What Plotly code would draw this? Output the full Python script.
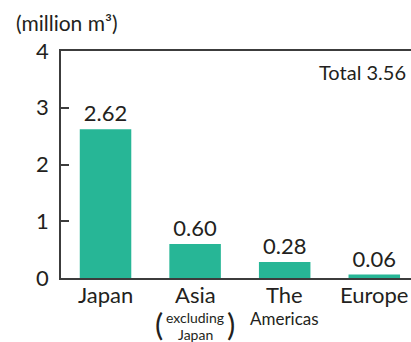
import plotly.graph_objects as go

categories = ["Japan", "Asia", "The Americas", "Europe"]
values = [2.62, 0.60, 0.28, 0.06]
value_labels = ["2.62", "0.60", "0.28", "0.06"]
y_ticks = [0, 1, 2, 3, 4]
total_label = "Total 3.56"
unit_label = "(million m³)"

FONT = "Lato"
TXT = "#231f20"
LINE = "#3c3c3c"
BAR = "#27b696"

fig = go.Figure()
fig.add_trace(go.Bar(
    x=categories, y=values, width=0.575,
    marker=dict(color=BAR, line=dict(width=0)),
    text=value_labels, textposition="outside",
    textfont=dict(family=FONT, size=22, color=TXT),
    cliponaxis=False,
))

def lab(cat, text, size, yshift, xshift=0, yanchor="top"):
    return dict(x=cat, y=0, xref="x", yref="y", yanchor=yanchor, yshift=yshift,
                xshift=xshift, text=text, showarrow=False,
                font=dict(family=FONT, size=size, color=TXT))

ann = [
    lab(categories[0], "Japan", 22, -1),
    lab(categories[1], "Asia", 22, -1),
    lab(categories[1], "excluding", 14, -29),
    lab(categories[1], "Japan", 14, -46),
    lab(categories[1], "(", 31, -46, xshift=-36, yanchor="middle"),
    lab(categories[1], ")", 31, -46, xshift=36, yanchor="middle"),
    lab(categories[2], "The", 22, -1),
    lab(categories[2], "Americas", 17, -28),
    lab(categories[3], "Europe", 22, -1),
]
ann.append(dict(x=1, y=1, xref="paper", yref="paper", xanchor="right", yanchor="top",
                xshift=-3, yshift=-7, text=total_label, showarrow=False,
                font=dict(family=FONT, size=20, color=TXT)))
ann.append(dict(x=0, y=1, xref="paper", yref="paper", xanchor="left", yanchor="bottom",
                xshift=-47, yshift=14, text=unit_label, showarrow=False,
                font=dict(family=FONT, size=21, color=TXT)))

fig.update_layout(
    width=411, height=342,
    margin=dict(l=61, r=0, t=51, b=64),
    paper_bgcolor="white", plot_bgcolor="white",
    showlegend=False,
    annotations=ann,
    xaxis=dict(range=[-0.497, 3.41], showticklabels=False, ticks="",
               showline=True, mirror=True, linecolor=LINE, linewidth=1.5,
               showgrid=False, zeroline=False, fixedrange=True),
    yaxis=dict(range=[0, 4], tickvals=y_ticks, ticks="inside", ticklen=8,
               tickcolor=LINE, tickwidth=1.5, ticklabelstandoff=6,
               showline=True, linecolor=LINE, linewidth=1.5,
               showgrid=False, zeroline=False,
               tickfont=dict(family=FONT, size=22, color=TXT)),
)

fig.write_html("out.html")
